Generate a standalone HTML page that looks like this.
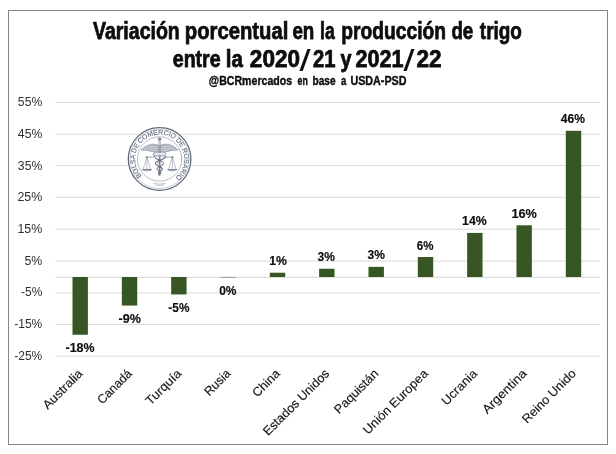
<!DOCTYPE html>
<html lang="es"><head><meta charset="utf-8"><title>Variación porcentual en la producción de trigo</title>
<style>html,body{margin:0;padding:0;background:#fff}svg{display:block}text{font-family:"Liberation Sans",sans-serif}</style></head><body>
<svg width="616" height="454" viewBox="0 0 616 454">
<rect width="616" height="454" fill="#fff"/>
<rect x="8.5" y="10.5" width="599" height="434" fill="none" stroke="#868686" stroke-width="1"/>
<g stroke="#d9d9d9" stroke-width="1">
<line x1="55.6" x2="600.3" y1="102.50" y2="102.50"/>
<line x1="55.6" x2="600.3" y1="134.25" y2="134.25"/>
<line x1="55.6" x2="600.3" y1="165.45" y2="165.45"/>
<line x1="55.6" x2="600.3" y1="197.30" y2="197.30"/>
<line x1="55.6" x2="600.3" y1="229.20" y2="229.20"/>
<line x1="55.6" x2="600.3" y1="261.10" y2="261.10"/>
<line x1="55.6" x2="600.3" y1="277.35" y2="277.35"/>
<line x1="55.6" x2="600.3" y1="292.95" y2="292.95"/>
<line x1="55.6" x2="600.3" y1="324.45" y2="324.45"/>
<line x1="55.6" x2="600.3" y1="356.15" y2="356.15"/>
</g>
<g fill="#375623">
<rect x="72.50" y="277.00" width="15.4" height="57.73"/>
<rect x="121.83" y="277.00" width="15.4" height="28.55"/>
<rect x="171.16" y="277.00" width="15.4" height="17.45"/>
<rect x="220.49" y="276.85" width="15.4" height="1" fill="#9a9e96"/>
<rect x="269.82" y="272.72" width="15.4" height="4.28"/>
<rect x="319.15" y="268.75" width="15.4" height="8.25"/>
<rect x="368.48" y="266.85" width="15.4" height="10.15"/>
<rect x="417.81" y="257.02" width="15.4" height="19.98"/>
<rect x="467.14" y="232.91" width="15.4" height="44.09"/>
<rect x="516.47" y="225.30" width="15.4" height="51.70"/>
<rect x="565.80" y="130.77" width="15.4" height="146.23"/>
</g>
<g font-size="12.4" fill="#151515" stroke="#151515" stroke-width="0.15">
<text transform="translate(83.4,374.3) rotate(-45)" x="-50.5" y="0" textLength="50.5" lengthAdjust="spacingAndGlyphs">Australia</text>
<text transform="translate(132.7,374.3) rotate(-45)" x="-43.2" y="0" textLength="43.2" lengthAdjust="spacingAndGlyphs">Canadá</text>
<text transform="translate(182.1,374.3) rotate(-45)" x="-44.6" y="0" textLength="44.6" lengthAdjust="spacingAndGlyphs">Turquía</text>
<text transform="translate(231.4,374.3) rotate(-45)" x="-31.3" y="0" textLength="31.3" lengthAdjust="spacingAndGlyphs">Rusia</text>
<text transform="translate(280.7,374.3) rotate(-45)" x="-33.0" y="0" textLength="33.0" lengthAdjust="spacingAndGlyphs">China</text>
<text transform="translate(330.0,374.3) rotate(-45)" x="-87.7" y="0" textLength="87.7" lengthAdjust="spacingAndGlyphs">Estados Unidos</text>
<text transform="translate(379.4,374.3) rotate(-45)" x="-57.0" y="0" textLength="57.0" lengthAdjust="spacingAndGlyphs">Paquistán</text>
<text transform="translate(428.7,374.3) rotate(-45)" x="-85.8" y="0" textLength="85.8" lengthAdjust="spacingAndGlyphs">Unión Europea</text>
<text transform="translate(478.0,374.3) rotate(-45)" x="-44.7" y="0" textLength="44.7" lengthAdjust="spacingAndGlyphs">Ucrania</text>
<text transform="translate(527.4,374.3) rotate(-45)" x="-56.8" y="0" textLength="56.8" lengthAdjust="spacingAndGlyphs">Argentina</text>
<text transform="translate(576.7,374.3) rotate(-45)" x="-70.4" y="0" textLength="70.4" lengthAdjust="spacingAndGlyphs">Reino Unido</text>
</g>
<g font-size="12.3" font-weight="bold" fill="#0d0d0d" stroke="#0d0d0d" stroke-width="0.15">
<text x="65.5" y="352.4" textLength="29.0" lengthAdjust="spacingAndGlyphs">-18%</text>
<text x="118.5" y="323.2" textLength="22.36" lengthAdjust="spacingAndGlyphs">-9%</text>
<text x="168.36" y="311.8" textLength="21.06" lengthAdjust="spacingAndGlyphs">-5%</text>
<text x="219.14" y="295.4" textLength="17.28" lengthAdjust="spacingAndGlyphs">0%</text>
<text x="269.14" y="265" textLength="17.64" lengthAdjust="spacingAndGlyphs">1%</text>
<text x="317.5" y="260.7" textLength="17.42" lengthAdjust="spacingAndGlyphs">3%</text>
<text x="367.58" y="259" textLength="17.42" lengthAdjust="spacingAndGlyphs">3%</text>
<text x="416.86" y="249.5" textLength="16.7" lengthAdjust="spacingAndGlyphs">6%</text>
<text x="462.14" y="225" textLength="24.64" lengthAdjust="spacingAndGlyphs">14%</text>
<text x="511.42" y="217.8" textLength="25.44" lengthAdjust="spacingAndGlyphs">16%</text>
<text x="560.72" y="123.3" textLength="24.2" lengthAdjust="spacingAndGlyphs">46%</text>
</g>
<g font-size="12" fill="#2e2e2e">
<text x="17.86" y="106.2" textLength="24.42" lengthAdjust="spacingAndGlyphs">55%</text>
<text x="17.86" y="137.9" textLength="24.42" lengthAdjust="spacingAndGlyphs">45%</text>
<text x="17.86" y="169.6" textLength="24.42" lengthAdjust="spacingAndGlyphs">35%</text>
<text x="17.42" y="201.3" textLength="24.86" lengthAdjust="spacingAndGlyphs">25%</text>
<text x="17.42" y="233.0" textLength="24.86" lengthAdjust="spacingAndGlyphs">15%</text>
<text x="24.42" y="264.7" textLength="17.86" lengthAdjust="spacingAndGlyphs">5%</text>
<text x="21.0" y="296.4" textLength="21.28" lengthAdjust="spacingAndGlyphs">-5%</text>
<text x="14.22" y="328.1" textLength="28.06" lengthAdjust="spacingAndGlyphs">-15%</text>
<text x="14.22" y="360.0" textLength="28.06" lengthAdjust="spacingAndGlyphs">-25%</text>
</g>
<text font-weight="bold" fill="#0d0d0d" stroke="#0d0d0d" stroke-width="0.75" font-size="23.2"><tspan x="92.94" y="38.5" textLength="86.86" lengthAdjust="spacingAndGlyphs">Variación</tspan> <tspan x="184.84" y="38.5" textLength="103.46" lengthAdjust="spacingAndGlyphs">porcentual</tspan> <tspan x="292.42" y="38.5" textLength="21.88" lengthAdjust="spacingAndGlyphs">en</tspan> <tspan x="320.06" y="38.5" textLength="14.64" lengthAdjust="spacingAndGlyphs">la</tspan> <tspan x="341.34" y="38.5" textLength="104.74" lengthAdjust="spacingAndGlyphs">producción</tspan> <tspan x="451.42" y="38.5" textLength="21.8" lengthAdjust="spacingAndGlyphs">de</tspan> <tspan x="479.86" y="38.5" textLength="42.0" lengthAdjust="spacingAndGlyphs">trigo</tspan></text>
<text font-weight="bold" fill="#0d0d0d" stroke="#0d0d0d" stroke-width="0.75" font-size="23.2"><tspan x="172.78" y="66.6" textLength="47.86" lengthAdjust="spacingAndGlyphs">entre</tspan> <tspan x="225.84" y="66.6" textLength="17.08" lengthAdjust="spacingAndGlyphs">la</tspan> <tspan x="249.86" y="66.6" textLength="50.14" lengthAdjust="spacingAndGlyphs">2020</tspan><tspan x="299.44" y="70.8" font-size="28.6" font-weight="normal" stroke-width="0.1" textLength="11.06" lengthAdjust="spacingAndGlyphs">/</tspan><tspan x="313.0" y="66.6" textLength="22.5" lengthAdjust="spacingAndGlyphs">21</tspan> <tspan x="340.5" y="66.6" textLength="11.0" lengthAdjust="spacingAndGlyphs">y</tspan> <tspan x="355.42" y="66.6" textLength="48.0" lengthAdjust="spacingAndGlyphs">2021</tspan><tspan x="403.5" y="70.8" font-size="28.6" font-weight="normal" stroke-width="0.1" textLength="10.92" lengthAdjust="spacingAndGlyphs">/</tspan><tspan x="416.42" y="66.6" textLength="25.08" lengthAdjust="spacingAndGlyphs">22</tspan></text>
<text font-weight="bold" fill="#0d0d0d" stroke="#0d0d0d" stroke-width="0.4" font-size="12.6"><tspan x="208.86" y="84.6" textLength="83.28" lengthAdjust="spacingAndGlyphs">@BCRmercados</tspan> <tspan x="297.5" y="84.6" textLength="10.28" lengthAdjust="spacingAndGlyphs">en</tspan> <tspan x="312.5" y="84.6" textLength="23.0" lengthAdjust="spacingAndGlyphs">base</tspan> <tspan x="341.0" y="84.6" textLength="5.34" lengthAdjust="spacingAndGlyphs">a</tspan> <tspan x="350.42" y="84.6" textLength="56.08" lengthAdjust="spacingAndGlyphs">USDA-PSD</tspan></text>
<g id="logo" fill="none" stroke="#626b7e" stroke-linecap="round" stroke-linejoin="round">
<circle cx="159.6" cy="159.0" r="31.3" fill="#fff" stroke-width="1.3"/>
<circle cx="159.6" cy="159.0" r="29.5" stroke-width="0.35"/>
<circle cx="159.6" cy="159.0" r="22.2" stroke-width="0.45"/>
<path d="M 154.1 183.6 Q 159.6 184.8 165.1 183.6" stroke-width="0.45"/>
<path d="M 155.6 185.2 Q 159.6 186.0 163.6 185.2" stroke-width="0.35"/>
<g transform="translate(159.6,159.0)">
<path d="M0 -20 V16.8" stroke-width="1.8" stroke="#7b8497" stroke-linecap="butt"/>
<path d="M0 -18.5 V-3" stroke-width="0.7" stroke="#eef0f4"/>
<circle cx="0" cy="-20.0" r="1.5" fill="#8a92a4" stroke-width="0.3"/>
<path d="M-0.8 -13.6 C-6 -16.4 -13.5 -14.6 -18.7 -8.8 C-14.5 -9 -11 -8.6 -8.5 -7.6 C-6 -7.0 -3.5 -6.6 -0.8 -7.2 Z" fill="#a4abba" fill-opacity="0.55" stroke-width="0.45"/>
<path d="M-1 -12.8 C-6 -14.6 -11.5 -13 -16.5 -9.8 M-1 -11 C-5 -12.2 -9.5 -11.2 -14 -9.2 M-1 -9.2 C-4 -10 -7.5 -9.4 -11 -8.4" stroke-width="0.35"/>
<path d="M0.8 -13.6 C6 -16.4 13.5 -14.6 18.7 -8.8 C14.5 -9 11 -8.6 8.5 -7.6 C6 -7.0 3.5 -6.6 0.8 -7.2 Z" fill="#a4abba" fill-opacity="0.55" stroke-width="0.45"/>
<path d="M1 -12.8 C6 -14.6 11.5 -13 16.5 -9.8 M1 -11 C5 -12.2 9.5 -11.2 14 -9.2 M1 -9.2 C4 -10 7.5 -9.4 11 -8.4" stroke-width="0.35"/>
<path d="M-6.2 -4.6 C-6.6 -7.2 -2 -7.6 0 -6.2 C2 -7.6 6.6 -7.2 6.2 -4.6 C5.8 -2.6 2 -2.6 0 -3.6 C-2 -2.6 -5.8 -2.6 -6.2 -4.6 Z" stroke-width="0.7" fill="#e9ebf0"/>
<path d="M-5.6 -3 C-5 1 4.6 1.2 4 4.6 C3.6 7.4 -3 7.2 -2.6 10 C-2.2 12.4 1.8 12.4 1.4 14.6" stroke-width="1.0"/>
<path d="M6 -2.6 C5.4 1.4 -4.8 1.4 -4.2 4.8 C-3.8 7.6 3.2 7.4 2.8 10.2 C2.4 12.6 -1.8 12.6 -1.2 15.2" stroke-width="1.05"/>
<path d="M-4.4 -1.6 C-2 2.4 3 2 2.6 5.4 M4.4 -1.6 C2 2.4 -3 2 -2.6 5.4" stroke-width="0.4"/>
<path d="M-14 -2.0 H-6 M6 -2.0 H14" stroke-width="0.6"/>
<path d="M-12.7 -1.6 L-16.5 10.2 M-12.7 -1.6 L-8.899999999999999 10.2 M-12.7 -1.6 V10.2" stroke-width="0.4"/>
<circle cx="-12.7" cy="-1.8" r="0.7" fill="#626b7e" stroke="none"/>
<path d="M-16.9 10.6 H-8.5" stroke-width="0.9"/>
<path d="M-16.7 11.2 Q-12.7 13.4 -8.7 11.2 Z" stroke-width="0.35" fill="#c9cdd6"/>
<path d="M12.7 -1.6 L8.899999999999999 10.2 M12.7 -1.6 L16.5 10.2 M12.7 -1.6 V10.2" stroke-width="0.4"/>
<circle cx="12.7" cy="-1.8" r="0.7" fill="#626b7e" stroke="none"/>
<path d="M8.5 10.6 H16.9" stroke-width="0.9"/>
<path d="M8.7 11.2 Q12.7 13.4 16.7 11.2 Z" stroke-width="0.35" fill="#c9cdd6"/>
</g>
</g>
<defs><path id="ring" d="M 141.83 175.86 A 24.5 24.5 0 1 1 175.83 177.35"/></defs>
<text font-size="6.7" fill="#626b7e" stroke="#626b7e" stroke-width="0.12" word-spacing="-0.45" textLength="116.3" lengthAdjust="spacingAndGlyphs"><textPath href="#ring">BOLSA DE COMERCIO DE ROSARIO</textPath></text>
</svg></body></html>
